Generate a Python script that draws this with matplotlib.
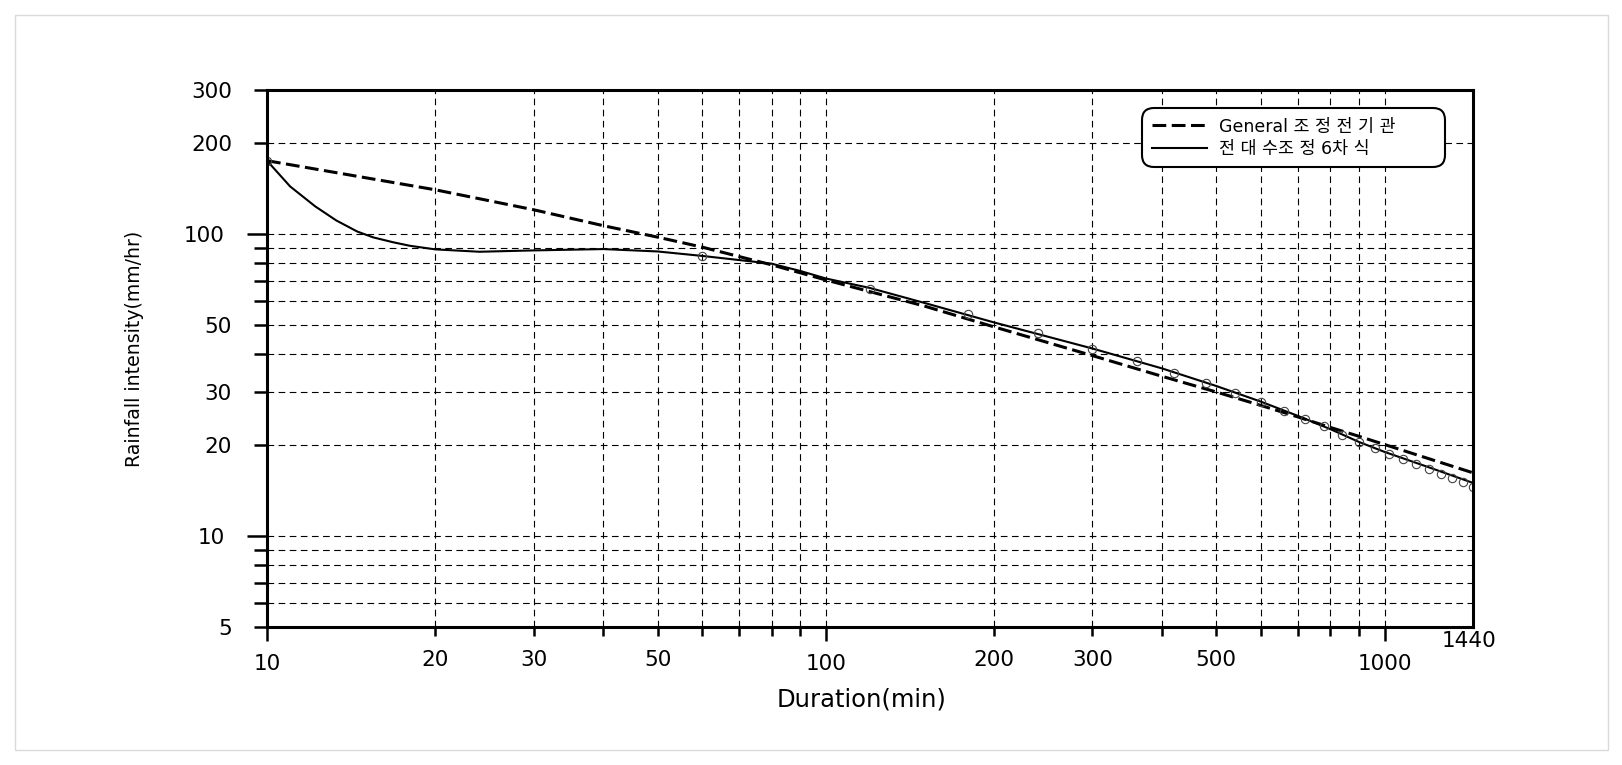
import numpy as np
import matplotlib
matplotlib.use('Agg')
import matplotlib.pyplot as plt
from matplotlib.ticker import FixedLocator, FuncFormatter
from matplotlib.patches import Rectangle

plt.rcParams['font.family'] = ['DejaVu Sans', 'Noto Sans CJK KR']

# General formula (dashed line)
general_dur = [10, 20, 30, 40, 50, 60, 80, 100, 150, 200, 300, 400, 500, 600, 700, 800, 900, 1000, 1440]
general_val = [175, 140.2, 120.4, 106.6, 97.7, 90.6, 79.1, 70.5, 57.8, 49.3, 39.6, 33.8, 30.0, 27.1, 24.8, 22.9, 21.4, 20.1, 16.2]

# full-log polynomial fit (solid line)
poly_dur = [10, 11, 12.2, 13.3, 14.5, 15.5, 16.8, 18, 20, 24, 30, 40, 50, 60, 80, 90, 100, 120, 150, 200,
            300, 400, 500, 600, 700, 800, 900, 1000, 1200, 1440]
poly_val = [175, 143.8, 123.5, 111, 102, 97.5, 94, 91.5, 89, 87.4, 88.3, 89.2, 87.6, 84.7, 79.8, 75.5, 71.3, 66.3, 59.2, 51.0,
            41.8, 35.9, 31.4, 27.9, 25.0, 22.6, 20.5, 19.0, 16.9, 15.0]

# observed points (open circles)
obs_dur = [10, 60, 120, 180, 240, 300, 360, 420, 480, 540, 600, 660, 720, 780, 840, 900,
           960, 1020, 1080, 1140, 1200, 1260, 1320, 1380, 1440]
obs_val = [175, 84.7, 66.0, 54.2, 46.9, 41.5, 38.0, 34.8, 32.05, 29.7, 27.9, 25.95, 24.4, 23.1, 21.6, 20.5,
           19.55, 18.7, 17.95, 17.3, 16.7, 16.1, 15.6, 15.1, 14.55]

legend_labels = ['General 조 정 전 기 관', '전 대 수조 정 6차 식']

x_major = [10, 100, 1000]
x_minor = [20, 30, 40, 50, 60, 70, 80, 90, 200, 300, 400, 500, 600, 700, 800, 900]
x_labeled = [10, 20, 30, 50, 100, 200, 300, 500, 1000]
y_major = [10, 100]
y_minor = [5, 6, 7, 8, 9, 20, 30, 40, 50, 60, 70, 80, 90, 200, 300]
y_labeled = [5, 10, 20, 30, 50, 100, 200, 300]

W, H = 1622, 765
fig = plt.figure(figsize=(W / 100, H / 100), dpi=100)
fig.patch.set_facecolor('white')
fig.patches.append(Rectangle((15 / W, 15 / H), (1608 - 15) / W, (750 - 15) / H,
                             transform=fig.transFigure, fill=False,
                             edgecolor='#dadada', linewidth=1.0))

ax = fig.add_axes([267 / W, 1 - 627 / H, 1206 / W, 537 / H])
ax.set_xscale('log')
ax.set_yscale('log')
ax.set_xlim(10, 1440)
ax.set_ylim(5, 300)

ax.plot(general_dur, general_val, color='black', linewidth=2.2,
        linestyle=(0, (4.5, 1.8)), label=legend_labels[0], zorder=4)
ax.plot(poly_dur, poly_val, color='black', linewidth=1.5, label=legend_labels[1], zorder=4)
ax.plot(obs_dur, obs_val, linestyle='none', marker='o', markersize=6,
        markerfacecolor='none', markeredgecolor='#444444', markeredgewidth=0.8, zorder=5)

# ticks and grid
ax.xaxis.set_major_locator(FixedLocator(x_major))
ax.xaxis.set_minor_locator(FixedLocator(x_minor))
ax.yaxis.set_major_locator(FixedLocator(y_major))
ax.yaxis.set_minor_locator(FixedLocator(y_minor))
xfmt = FuncFormatter(lambda v, p: str(int(round(v))) if int(round(v)) in x_labeled else '')
yfmt = FuncFormatter(lambda v, p: str(int(round(v))) if int(round(v)) in y_labeled else '')
ax.xaxis.set_major_formatter(xfmt)
ax.xaxis.set_minor_formatter(xfmt)
ax.yaxis.set_major_formatter(yfmt)
ax.yaxis.set_minor_formatter(yfmt)

ax.tick_params(axis='x', which='major', direction='out', length=10.3, width=1.8, pad=9.5, labelsize=15.5)
ax.tick_params(axis='x', which='minor', direction='out', length=6.7, width=1.8, pad=9.5, labelsize=15.5)
ax.tick_params(axis='y', which='major', direction='out', length=14.4, width=1.8, pad=15.8, labelsize=15.5)
ax.tick_params(axis='y', which='minor', direction='out', length=9.4, width=1.8, pad=15.8, labelsize=15.5)

ax.grid(True, which='both', color='black', linewidth=0.8, linestyle=(0, (6, 4)))
for s in ax.spines.values():
    s.set_linewidth(2.2)
    s.set_zorder(6)

ax.annotate('1440', xy=(1440, 5), xytext=(-3, -3), textcoords='offset points',
            ha='center', va='top', fontsize=15.5, annotation_clip=False)

fig.text(862 / W, 1 - 699 / H, 'Duration(min)', ha='center', va='center', fontsize=17.5)
fig.text(135 / W, 1 - 349 / H, 'Rainfall intensity(mm/hr)', ha='center', va='center',
         rotation=90, fontsize=13.6)

leg = ax.legend(loc='upper left', bbox_to_anchor=(875 / 1206, 1 - 73 / 537, 303 / 1206, 55 / 537),
                mode='expand', borderaxespad=0, fontsize=12.5, handlelength=3.2,
                handletextpad=0.7, borderpad=0.55, labelspacing=0.25, fancybox=True,
                framealpha=1, edgecolor='black')
leg.get_frame().set_linewidth(1.5)
leg.get_frame().set_boxstyle('round,pad=0,rounding_size=0.7')
leg.set_zorder(7)

fig.savefig('out.png', dpi=100, facecolor='white')
